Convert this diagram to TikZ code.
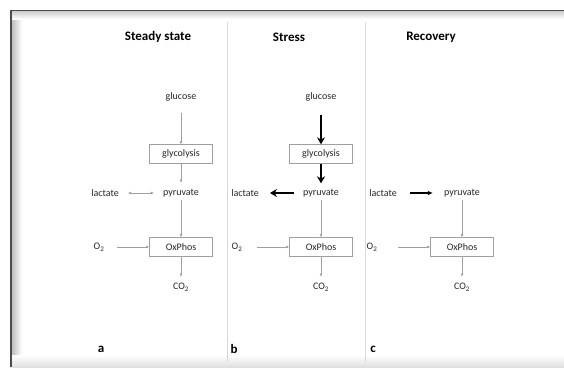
\documentclass[tikz,border=0pt]{standalone}
\usepackage{fontspec}
\setmainfont{Carlito}
\usetikzlibrary{arrows.meta}

\tikzset{
  txt/.style={font=\fontsize{10}{12}\selectfont, text=black!85, inner sep=2pt},
  box/.style={txt, draw=gray!75, minimum width=63pt, minimum height=19pt},
  head/.style={font=\fontsize{13}{15}\selectfont\bfseries},
  tip/.tip={Latex[length=3.2pt,width=2.8pt]},
  flow/.style={draw=gray!75, line width=0.55pt, -tip},
  boost/.style={draw=black, line width=1.6pt, -{Stealth[length=7pt,width=8pt]}},
  reflow/.style={draw=black, line width=1.1pt, -{Latex[length=5pt,width=4.5pt]}},
}

\begin{document}
\begin{tikzpicture}[x=1pt,y=-1pt]
    \useasboundingbox (0,0) rectangle (564,367);
    % frame with inner shadow
    \fill[white] (11,10) rectangle (564,367);
    \shade[left color=gray!55, right color=white] (11,10) rectangle (22,367);
    \shade[top color=gray!45, bottom color=white] (11,10) rectangle (564,19);
    \shade[top color=white, bottom color=gray!25] (11,355) rectangle (564,367);
    \draw[black!70, line width=1.3pt] (11,367) |- (564,10.6);
    \draw[gray!30, line width=0.8pt] (227,22) -- (227,362);
    \draw[gray!30, line width=0.8pt] (365,22) -- (365,362);

    % steady state
    \node[head] (title a) at (158,37) {Steady state};
    \node[txt] (glucose a) at (181,97) {glucose};
    \node[box] (glycolysis a) at (181,154) {glycolysis};
    \node[txt] (pyruvate a) at (181,193) {pyruvate};
    \node[txt] (lactate a) at (105,193) {lactate};
    \node[txt] (O2 a) at (99,247) {O\textsubscript{2}};
    \node[box] (OxPhos a) at (181,247) {OxPhos};
    \node[txt] (CO2 a) at (181,287) {CO\textsubscript{2}};
    \node[head] (a) at (101,349) {a};
    \draw[flow, shorten <=9pt] (glucose a) -- (glycolysis a);
    \draw[flow, shorten >=4pt] (glycolysis a) -- (pyruvate a);
    \draw[flow, shorten <=1pt] (pyruvate a) -- (OxPhos a);
    \draw[flow, shorten >=4pt] (OxPhos a) -- (CO2 a);
    \draw[flow, shorten <=10pt] (O2 a) -- (OxPhos a);
    \draw[flow, tip-tip, shorten <=7pt, shorten >=7pt] (lactate a) -- (pyruvate a);

    % stress
    \node[head] (title b) at (289,37) {Stress};
    \node[txt] (glucose b) at (321,97) {glucose};
    \node[box] (glycolysis b) at (321,154) {glycolysis};
    \node[txt] (pyruvate b) at (321,193) {pyruvate};
    \node[txt] (lactate b) at (245,193) {lactate};
    \node[txt] (O2 b) at (237,247) {O\textsubscript{2}};
    \node[box] (OxPhos b) at (321,247) {OxPhos};
    \node[txt] (CO2 b) at (321,287) {CO\textsubscript{2}};
    \node[head] (b) at (234,349) {b};
    \draw[boost, shorten <=11pt] (glucose b) -- (glycolysis b);
    \draw[boost, shorten >=3.5pt] (glycolysis b) -- (pyruvate b);
    \draw[boost, shorten <=7pt, shorten >=9pt] (pyruvate b) -- (lactate b);
    \draw[flow, shorten <=1pt] (pyruvate b) -- (OxPhos b);
    \draw[flow, shorten >=4pt] (OxPhos b) -- (CO2 b);
    \draw[flow, shorten <=12pt] (O2 b) -- (OxPhos b);

    % recovery
    \node[head] (title c) at (431,37) {Recovery};
    \node[txt] (lactate c) at (383,193) {lactate};
    \node[txt] (pyruvate c) at (462,193) {pyruvate};
    \node[txt] (O2 c) at (372,247) {O\textsubscript{2}};
    \node[box] (OxPhos c) at (462,247) {OxPhos};
    \node[txt] (CO2 c) at (462,287) {CO\textsubscript{2}};
    \node[head] (c) at (373,349) {c};
    \draw[reflow, shorten <=11pt, shorten >=9pt] (lactate c) -- (pyruvate c);
    \draw[flow, shorten <=1pt] (pyruvate c) -- (OxPhos c);
    \draw[flow, shorten >=4pt] (OxPhos c) -- (CO2 c);
    \draw[flow, shorten <=18pt] (O2 c) -- (OxPhos c);
\end{tikzpicture}
\end{document}
